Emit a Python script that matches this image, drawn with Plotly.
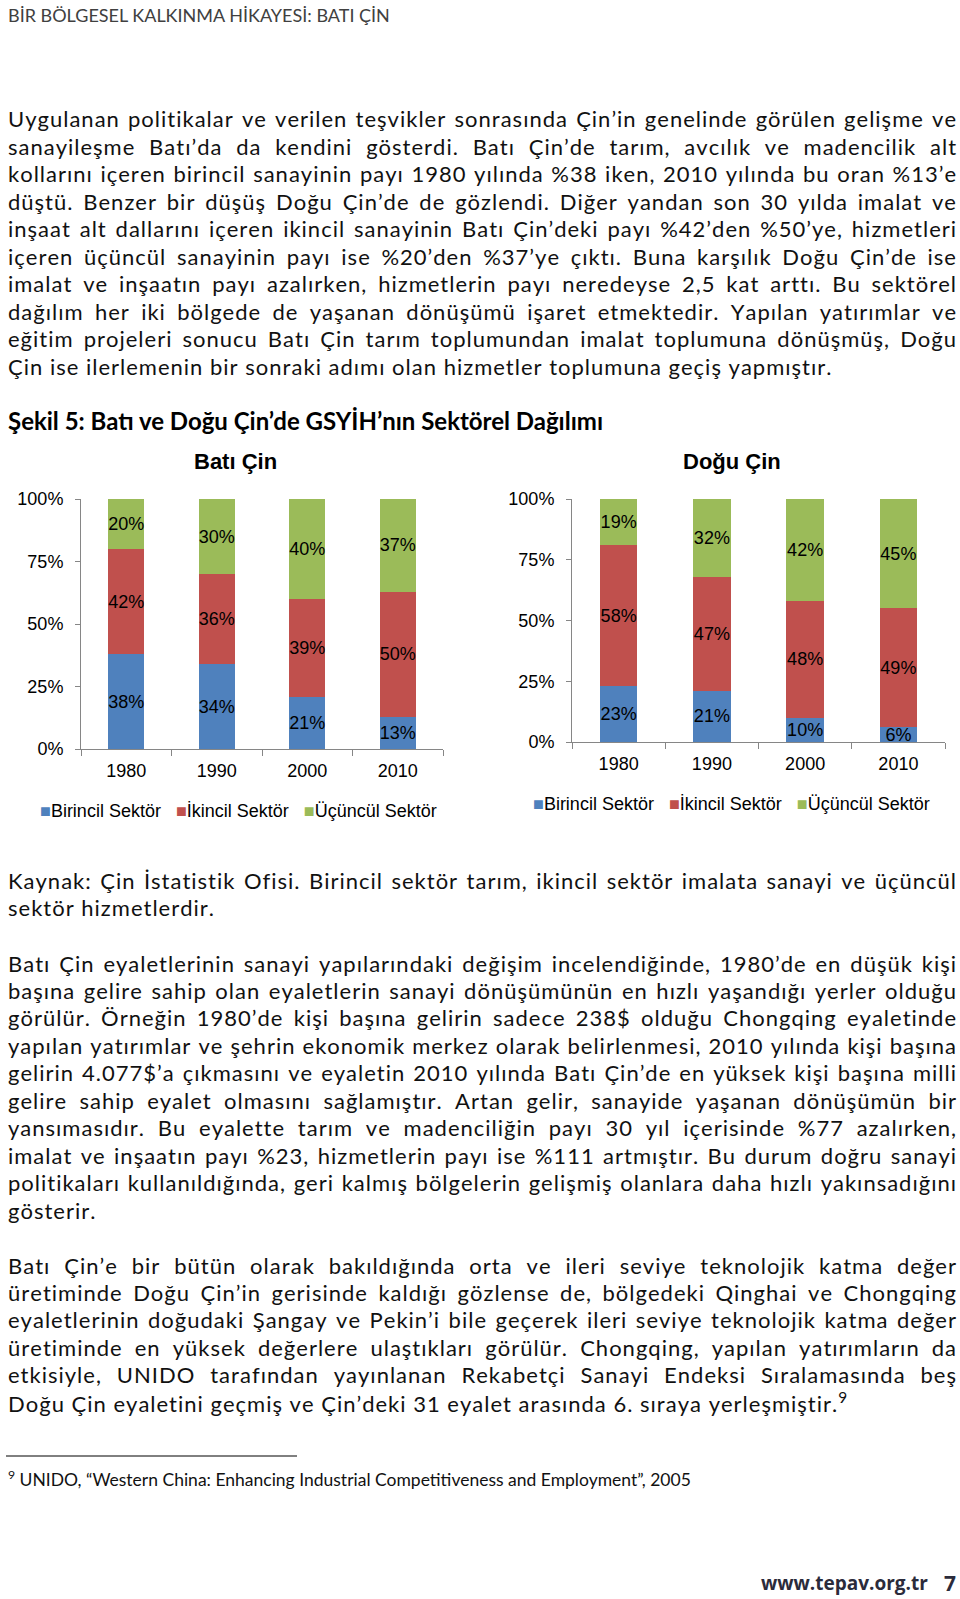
import os
import glob
import struct
import subprocess
import plotly.graph_objects as go

W, H = 960, 1599

years = ["1980", "1990", "2000", "2010"]
sectors = ["Birincil Sektör", "İkincil Sektör", "Üçüncül Sektör"]
colors = ["#4F81BD", "#C0504D", "#9BBB59"]

bati_birincil = [38, 34, 21, 13]
bati_ikincil = [42, 36, 39, 50]
bati_ucuncul = [20, 30, 40, 37]

dogu_birincil = [23, 21, 10, 6]
dogu_ikincil = [58, 47, 48, 49]
dogu_ucuncul = [19, 32, 42, 45]

header = "BİR BÖLGESEL KALKINMA HİKAYESİ: BATI ÇİN"
para1 = [
    "Uygulanan politikalar ve verilen teşvikler sonrasında Çin’in genelinde görülen gelişme ve",
    "sanayileşme Batı’da da kendini gösterdi. Batı Çin’de tarım, avcılık ve madencilik alt",
    "kollarını içeren birincil sanayinin payı 1980 yılında %38 iken, 2010 yılında bu oran %13’e",
    "düştü. Benzer bir düşüş Doğu Çin’de de gözlendi. Diğer yandan son 30 yılda imalat ve",
    "inşaat alt dallarını içeren ikincil sanayinin Batı Çin’deki payı %42’den %50’ye, hizmetleri",
    "içeren üçüncül sanayinin payı ise %20’den %37’ye çıktı. Buna karşılık Doğu Çin’de ise",
    "imalat ve inşaatın payı azalırken, hizmetlerin payı neredeyse 2,5 kat arttı. Bu sektörel",
    "dağılım her iki bölgede de yaşanan dönüşümü işaret etmektedir. Yapılan yatırımlar ve",
    "eğitim projeleri sonucu Batı Çin tarım toplumundan imalat toplumuna dönüşmüş, Doğu",
    "Çin ise ilerlemenin bir sonraki adımı olan hizmetler toplumuna geçiş yapmıştır.",
]
figure_title = "Şekil 5: Batı ve Doğu Çin’de GSYİH’nın Sektörel Dağılımı"
chart_titles = ["Batı Çin", "Doğu Çin"]
source = [
    "Kaynak: Çin İstatistik Ofisi. Birincil sektör tarım, ikincil sektör imalata sanayi ve üçüncül",
    "sektör hizmetlerdir.",
]
para2 = [
    "Batı Çin eyaletlerinin sanayi yapılarındaki değişim incelendiğinde, 1980’de en düşük kişi",
    "başına gelire sahip olan eyaletlerin sanayi dönüşümünün en hızlı yaşandığı yerler olduğu",
    "görülür. Örneğin 1980’de kişi başına gelirin sadece 238$ olduğu Chongqing eyaletinde",
    "yapılan yatırımlar ve şehrin ekonomik merkez olarak belirlenmesi, 2010 yılında kişi başına",
    "gelirin 4.077$’a çıkmasını ve eyaletin 2010 yılında Batı Çin’de en yüksek kişi başına milli",
    "gelire sahip eyalet olmasını sağlamıştır. Artan gelir, sanayide yaşanan dönüşümün bir",
    "yansımasıdır. Bu eyalette tarım ve madenciliğin payı 30 yıl içerisinde %77 azalırken,",
    "imalat ve inşaatın payı %23, hizmetlerin payı ise %111 artmıştır. Bu durum doğru sanayi",
    "politikaları kullanıldığında, geri kalmış bölgelerin gelişmiş olanlara daha hızlı yakınsadığını",
    "gösterir.",
]
para3 = [
    "Batı Çin’e bir bütün olarak bakıldığında orta ve ileri seviye teknolojik katma değer",
    "üretiminde Doğu Çin’in gerisinde kaldığı gözlense de, bölgedeki Qinghai ve Chongqing",
    "eyaletlerinin doğudaki Şangay ve Pekin’i bile geçerek ileri seviye teknolojik katma değer",
    "üretiminde en yüksek değerlere ulaştıkları görülür. Chongqing, yapılan yatırımların da",
    "etkisiyle, UNIDO tarafından yayınlanan Rekabetçi Sanayi Endeksi Sıralamasında beş",
    "Doğu Çin eyaletini geçmiş ve Çin’deki 31 eyalet arasında 6. sıraya yerleşmiştir.",
]
para3_note = "9"
footnote = "<sup>9</sup> UNIDO, “Western China: Enhancing Industrial Competitiveness and Employment”, 2005"
footer_site = "www.tepav.org.tr"
footer_page = "7"


# ---------- minimal font-metrics reader (used only to justify body text) ----------
def parse_font(path):
    data = open(path, "rb").read()
    num = struct.unpack(">H", data[4:6])[0]
    tables = {}
    for i in range(num):
        tag, _cs, off, ln = struct.unpack(">4sIII", data[12 + 16 * i:28 + 16 * i])
        tables[tag.decode("latin1")] = off
    head = tables["head"]
    upm = struct.unpack(">H", data[head + 18:head + 20])[0]
    hhea = tables["hhea"]
    nhm = struct.unpack(">H", data[hhea + 34:hhea + 36])[0]
    hmtx = tables["hmtx"]
    adv = [struct.unpack(">H", data[hmtx + 4 * i:hmtx + 4 * i + 2])[0] for i in range(nhm)]
    cm = tables["cmap"]
    nsub = struct.unpack(">H", data[cm + 2:cm + 4])[0]
    sub4 = sub12 = None
    for i in range(nsub):
        pid, eid, off = struct.unpack(">HHI", data[cm + 4 + 8 * i:cm + 12 + 8 * i])
        fmt = struct.unpack(">H", data[cm + off:cm + off + 2])[0]
        if fmt == 12 and pid in (0, 3):
            sub12 = cm + off
        elif fmt == 4 and pid in (0, 3) and sub4 is None:
            sub4 = cm + off

    def glyph(c):
        if sub12 is not None:
            o = sub12
            ng = struct.unpack(">I", data[o + 12:o + 16])[0]
            for g in range(ng):
                s, e, sg = struct.unpack(">III", data[o + 16 + 12 * g:o + 28 + 12 * g])
                if s <= c <= e:
                    return sg + c - s
            return 0
        o = sub4
        segx2 = struct.unpack(">H", data[o + 6:o + 8])[0]
        n = segx2 // 2
        ends = struct.unpack(f">{n}H", data[o + 14:o + 14 + segx2])
        starts = struct.unpack(f">{n}H", data[o + 16 + segx2:o + 16 + 2 * segx2])
        deltas = struct.unpack(f">{n}h", data[o + 16 + 2 * segx2:o + 16 + 3 * segx2])
        rpos = o + 16 + 3 * segx2
        roffs = struct.unpack(f">{n}H", data[rpos:rpos + segx2])
        for i in range(n):
            if ends[i] >= c:
                if starts[i] > c:
                    return 0
                if roffs[i] == 0:
                    return (c + deltas[i]) & 0xFFFF
                addr = rpos + 2 * i + roffs[i] + 2 * (c - starts[i])
                g = struct.unpack(">H", data[addr:addr + 2])[0]
                return (g + deltas[i]) & 0xFFFF if g else 0
        return 0

    cache = {}

    def advance(ch):
        if ch not in cache:
            g = glyph(ord(ch))
            cache[ch] = adv[g] if g < nhm else adv[-1]
        return cache[ch]

    return upm, advance


def load_metrics():
    cands = []
    try:
        out = subprocess.run(["fc-match", "-f", "%{file}", "Lato:style=Regular"],
                             capture_output=True, text=True, timeout=5).stdout.strip()
        if out and "lato" in os.path.basename(out).lower():
            cands.append(out)
    except Exception:
        pass
    for pat in ["/usr/share/fonts/**/Lato-Regular.ttf", "/usr/local/share/fonts/**/Lato-Regular.ttf",
                "/usr/share/fonts/**/Lato-Regular.otf", os.path.expanduser("~/.fonts/**/Lato-Regular.ttf"),
                os.path.expanduser("~/.local/share/fonts/**/Lato-Regular.ttf")]:
        cands += glob.glob(pat, recursive=True)
    for p in cands:
        try:
            return parse_font(p)
        except Exception:
            continue
    return None


METRICS = load_metrics()


def px(x):
    return x / W


def py(y):
    return 1 - y / H


BODY_FONT = "Lato, Open Sans, sans-serif"
CHART_FONT = "Liberation Sans, Arial, sans-serif"
CHART_SIZE = 18
BODY_SIZE = 22 if METRICS else 24
LETTER_SP = 1.0 if METRICS else 0.0
TEXT_LEFT, TEXT_RIGHT = 6, 955


def body_line(line, justify):
    if METRICS is None:
        return line
    upm, advance = METRICS
    style = f"letter-spacing:{LETTER_SP}px;font-kerning:none"
    if justify and line.count(" "):
        w = sum(advance(c) for c in line) * BODY_SIZE / upm + LETTER_SP * len(line)
        ws = (TEXT_RIGHT - TEXT_LEFT - w) / line.count(" ")
        style += f";word-spacing:{ws:.2f}px"
    return f'<span style="{style}">{line}</span>'


fig = go.Figure()

panels = [
    ("x", "y", [bati_birincil, bati_ikincil, bati_ucuncul]),
    ("x2", "y2", [dogu_birincil, dogu_ikincil, dogu_ucuncul]),
]
for xa, ya, series in panels:
    for name, col, vals in zip(sectors, colors, series):
        fig.add_trace(go.Bar(
            x=years, y=[v / 100 for v in vals], name=name,
            marker=dict(color=col, line=dict(width=0)),
            text=[f"{v}%" for v in vals], textposition="inside", textangle=0,
            insidetextanchor="middle", constraintext="none",
            textfont=dict(family=CHART_FONT, size=CHART_SIZE, color="#000000"),
            xaxis=xa, yaxis=ya, showlegend=False, hoverinfo="skip",
        ))

axis_common_x = dict(
    type="category", showline=True, linecolor="#868686", linewidth=1,
    ticks="outside", tickson="boundaries", ticklen=6, tickcolor="#868686",
    ticklabelstandoff=5, automargin=False,
    tickfont=dict(family=CHART_FONT, size=CHART_SIZE, color="#000000"),
    showgrid=False, zeroline=False, fixedrange=True,
)
axis_common_y = dict(
    range=[0, 1], tickvals=[0, 0.25, 0.5, 0.75, 1.0], tickformat=".0%",
    showline=True, linecolor="#868686", linewidth=1,
    ticks="outside", ticklen=5, tickcolor="#868686", ticklabelstandoff=8, automargin=False,
    tickfont=dict(family=CHART_FONT, size=CHART_SIZE, color="#000000"),
    showgrid=False, zeroline=False, fixedrange=True,
)

fig.update_layout(
    width=W, height=H, autosize=False,
    margin=dict(l=0, r=0, t=0, b=0, pad=0, autoexpand=False),
    paper_bgcolor="white", plot_bgcolor="white",
    barmode="stack", bargap=0.6, showlegend=False,
    xaxis=dict(domain=[px(81), px(443)], anchor="y", **axis_common_x),
    yaxis=dict(domain=[py(749), py(499)], anchor="x", **axis_common_y),
    xaxis2=dict(domain=[px(572), px(945)], anchor="y2", **axis_common_x),
    yaxis2=dict(domain=[py(742), py(499)], anchor="x2", **axis_common_y),
)

ann = []


def text(t, x, y, size, color="#111111", family=BODY_FONT, xanchor="left", bold=False):
    if bold:
        t = f"<b>{t}</b>"
    ann.append(dict(text=t, x=px(x), y=py(y), xref="paper", yref="paper",
                    xanchor=xanchor, yanchor="middle", showarrow=False,
                    font=dict(family=family, size=size, color=color)))


def paragraph(lines, y0, last_justified=False, note=None):
    for i, line in enumerate(lines):
        last = i == len(lines) - 1
        t = body_line(line, justify=(not last) or last_justified)
        if last and note:
            t += f"<sup>{note}</sup>"
        text(t, TEXT_LEFT, y0 + i * LS, BODY_SIZE)


text(header, 6, 15, 18, color="#404040")

LS = 27.45
paragraph(para1, 119)

text(figure_title, 6, 420, 24, color="#000000", bold=True)
text(chart_titles[0], 235, 461, 22, color="#000000", family=CHART_FONT, xanchor="center", bold=True)
text(chart_titles[1], 732, 461, 22, color="#000000", family=CHART_FONT, xanchor="center", bold=True)

# legends (colored squares + names) built from the series names and colours
GAP = "\u00a0\u00a0\u00a0"
legend_text = GAP.join(
    f'<span style="color:{c}">■</span>{s}' for s, c in zip(sectors, colors)
)
text(legend_text, 38, 811, CHART_SIZE, color="#000000", family=CHART_FONT)
text(legend_text, 531, 804, CHART_SIZE, color="#000000", family=CHART_FONT)

paragraph(source, 880)
paragraph(para2, 963)
paragraph(para3, 1265, note=para3_note)

text(footnote, 6, 1478, 17.5)
text(footer_site, 930, 1583, 19, color="#2b2b3b", family="Open Sans, sans-serif", xanchor="right", bold=True)
text(footer_page, 958, 1583, 21, color="#2b2b3b", family="Open Sans, sans-serif", xanchor="right", bold=True)

fig.update_layout(annotations=ann)
fig.add_shape(type="line", xref="paper", yref="paper",
              x0=px(6), x1=px(297), y0=py(1456), y1=py(1456),
              line=dict(color="#000000", width=1))

fig.write_html(
    "out.html",
    config={"displayModeBar": False},
    post_script=("document.body.style.margin='0';"
                 "var gd=document.getElementById('{plot_id}');"
                 "gd.style.position='fixed';gd.style.left='0px';gd.style.top='0px';"),
)
